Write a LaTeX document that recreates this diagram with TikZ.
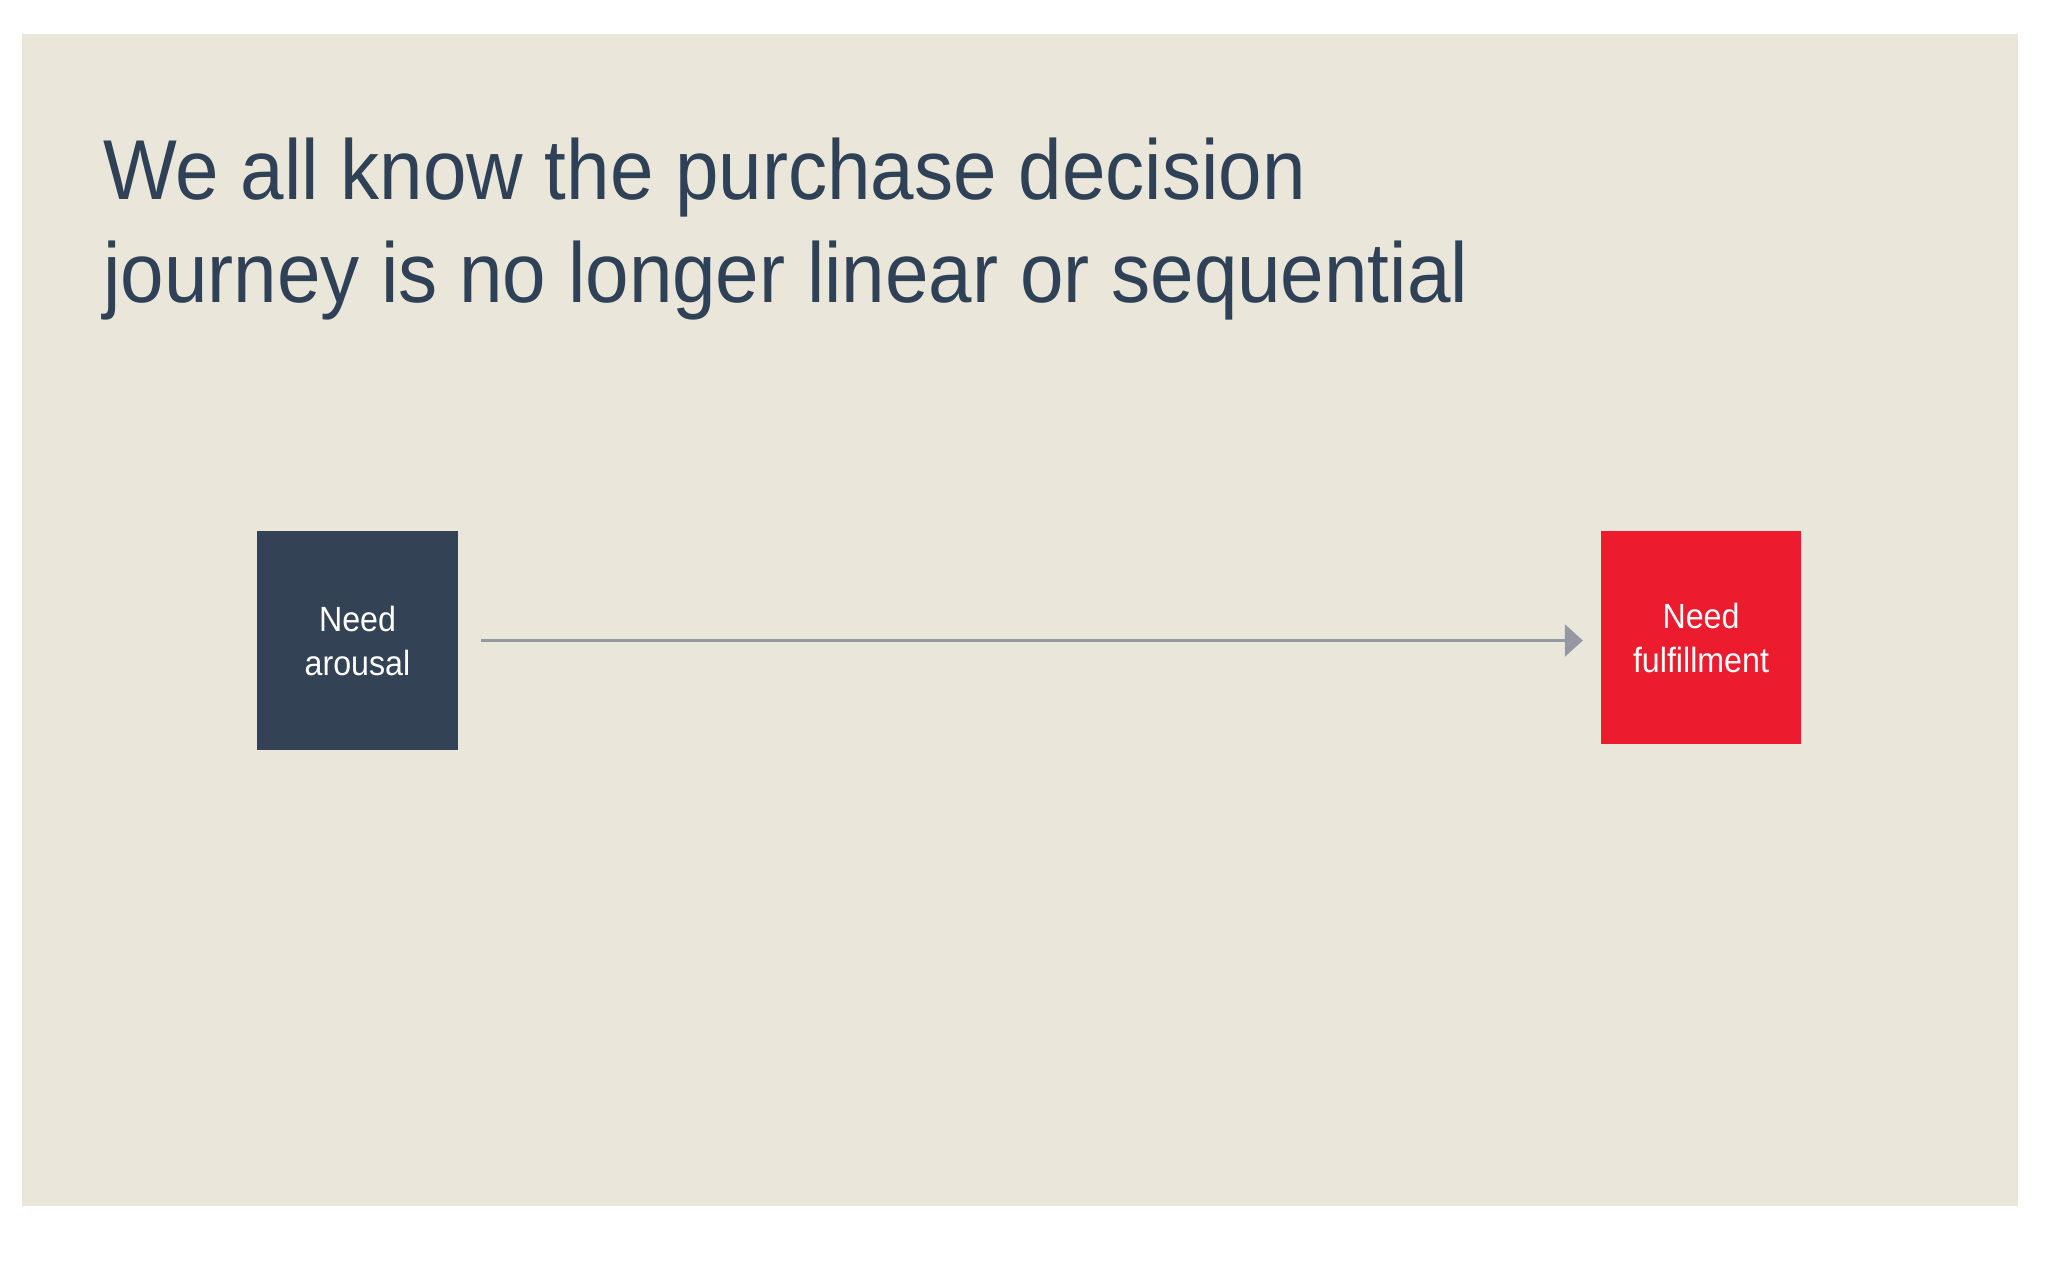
\documentclass[tikz,border=0pt]{standalone}
\usepackage{fontspec}
\setmainfont{Liberation Sans}
\newfontfamily\narrowsans[FakeStretch=0.92]{Liberation Sans}
\usetikzlibrary{arrows.meta}
\definecolor{bgc}{HTML}{EAE7DA}
\definecolor{titlec}{HTML}{2F4156}
\definecolor{darkbox}{HTML}{334355}
\definecolor{redbox}{HTML}{ED1B2E}
\definecolor{arrowc}{HTML}{9598A3}
\tikzset{
  titletext/.style={anchor=base west, inner sep=0pt, text=titlec, font=\narrowsans\fontsize{85}{102}\selectfont},
  stepbox/.style={inner sep=0pt, text=white, align=center, font=\narrowsans\fontsize{35}{44}\selectfont},
  flowarrow/.style={draw=arrowc, line width=3pt, -{Triangle[length=18pt,width=32pt]}}
}
\begin{document}
\begin{tikzpicture}[x=1pt,y=-1pt]
\useasboundingbox (0,0) rectangle (2048,1280);
\fill[white] (0,0) rectangle (2048,1280);
\fill[bgc] (22,34) rectangle (2018,1206);
\node[titletext] (t1) at (103,199) {We all know the purchase decision};
\node[titletext] (t2) at (103,302) {journey is no longer linear or sequential};
\node[stepbox, fill=darkbox, minimum width=201pt, minimum height=219pt] (a) at (357.5,640.5) {Need\\arousal};
\node[stepbox, fill=redbox, minimum width=200pt, minimum height=213pt] (b) at (1701,637.5) {Need\\fulfillment};
\draw[flowarrow] ([xshift=23pt]a.east) -- ([xshift=-18pt]a.east -| b.west);
\end{tikzpicture}
\end{document}
